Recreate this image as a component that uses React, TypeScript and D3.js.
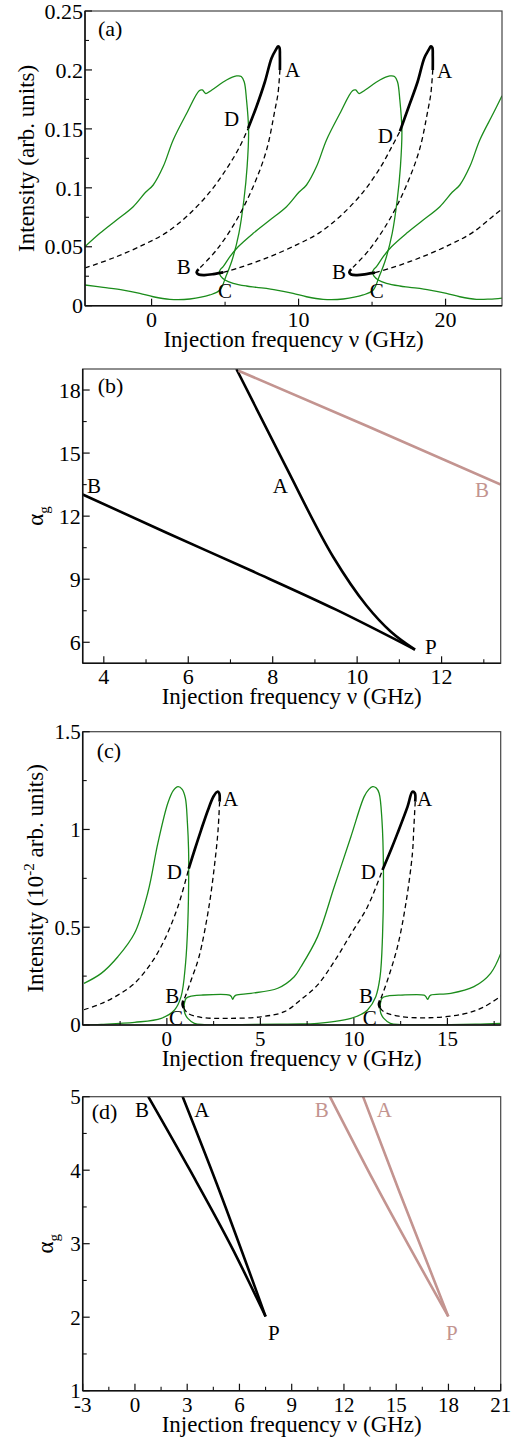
import React from 'react';
import * as d3 from 'd3';

const FONT = '"Liberation Serif", "Times New Roman", Times, serif';
const GREEN = '#1b8c1b';
const PINK = '#c39490';
const BLACK = '#000';

// ---------------- Panel (a) ----------------
const aXTicks = [0, 10, 20];
const aXMinor = [5, 15];
const aYTicks = [0, 0.05, 0.1, 0.15, 0.2, 0.25];
const aYMinor = [0.025, 0.075, 0.125, 0.175, 0.225];

const aGreenL_v = [-4.54, -3.52, -2.38, -1.25, -0.41, 0.11, 0.79, 1.47, 2.38, 3.24, 3.45, 3.69, 4.1, 5.1, 5.78, 6.1, 6.3, 6.46, 6.6, 6.5, 6.28, 5.94, 5.48, 5.05, 4.65, 3.97, 2.61, 1.24, 0.11, -0.8, -1.93, -3.29, -4.54];
const aGreenL_i = [0.05, 0.0614, 0.0727, 0.084, 0.0962, 0.1024, 0.118, 0.1406, 0.163, 0.1824, 0.183, 0.18, 0.183, 0.1915, 0.1949, 0.1945, 0.19, 0.1745, 0.149, 0.118, 0.0897, 0.0614, 0.0388, 0.0246, 0.0133, 0.0091, 0.0057, 0.0054, 0.0076, 0.0105, 0.0133, 0.0156, 0.0176];
const aGreenM_v = [4.6, 4.7, 4.87, 5.33, 5.89, 6.91, 8.05, 9.18, 10.02, 10.54, 11.22, 11.9, 12.81, 13.67, 13.88, 14.12, 14.53, 15.53, 16.21, 16.53, 16.73, 16.89, 17.03, 16.93, 16.71, 16.37, 15.91, 15.48, 15.08, 14.4, 13.04, 11.67, 10.54, 9.63, 8.5, 7.14, 6.46, 5.55, 4.99, 4.7, 4.6];
const aGreenM_i = [0.0285, 0.031, 0.0331, 0.0416, 0.05, 0.0614, 0.0727, 0.084, 0.0962, 0.1024, 0.118, 0.1406, 0.163, 0.1824, 0.183, 0.18, 0.183, 0.1915, 0.1949, 0.1945, 0.19, 0.1745, 0.149, 0.118, 0.0897, 0.0614, 0.0388, 0.0246, 0.0133, 0.0091, 0.0057, 0.0054, 0.0076, 0.0105, 0.0133, 0.0156, 0.0167, 0.019, 0.0218, 0.025, 0.0285];
const aGreenR_v = [23.84, 23.24, 22.33, 21.65, 20.97, 20.45, 19.61, 18.48, 17.34, 16.32, 15.76, 15.3, 15.13, 15.03, 15.13, 15.42, 15.98, 16.89, 17.57, 18.93, 20.06, 20.97, 22.1, 23.0, 23.84];
const aGreenR_i = [0.178, 0.163, 0.1406, 0.118, 0.1024, 0.0962, 0.084, 0.0727, 0.0614, 0.05, 0.0416, 0.0331, 0.031, 0.0285, 0.025, 0.0218, 0.019, 0.0167, 0.0156, 0.0133, 0.0105, 0.0076, 0.0054, 0.0056, 0.0065];

const aDashLowL_v = [-4.53, -2.5, -0.5, 1.0, 2.5, 4.0, 5.2, 6.0, 6.57];
const aDashLowL_i = [0.032, 0.041, 0.052, 0.062, 0.077, 0.097, 0.118, 0.135, 0.1505];
const aSolidDA1_v = [6.57, 7.14, 7.71, 8.16, 8.45, 8.61, 8.7, 8.73, 8.73];
const aSolidDA1_i = [0.1505, 0.169, 0.19, 0.21, 0.217, 0.22, 0.219, 0.212, 0.2];
const aDashUp1_v = [8.73, 8.6, 8.39, 7.82, 6.91, 5.78, 4.42, 3.2];
const aDashUp1_i = [0.2, 0.18, 0.166, 0.132, 0.101, 0.0727, 0.0473, 0.031];
const aSolidBC1_v = [3.2, 3.06, 3.2, 3.6, 4.2, 4.87];
const aSolidBC1_i = [0.031, 0.0285, 0.0265, 0.026, 0.0268, 0.0283];
const aDashLowM_v = [4.87, 5.9, 7.93, 9.93, 11.43, 12.93, 14.43, 15.6, 16.35, 16.9];
const aDashLowM_i = [0.0283, 0.032, 0.041, 0.052, 0.062, 0.077, 0.097, 0.118, 0.135, 0.148];
const aSolidDA2_v = [16.9, 17.5, 18.1, 18.55, 18.85, 19.0, 19.1, 19.13, 19.13];
const aSolidDA2_i = [0.148, 0.169, 0.19, 0.21, 0.217, 0.22, 0.219, 0.212, 0.2];
const aDashUp2_v = [19.13, 19.0, 18.8, 18.22, 17.3, 16.17, 14.8, 13.58];
const aDashUp2_i = [0.2, 0.18, 0.166, 0.132, 0.101, 0.0727, 0.0473, 0.031];
const aSolidBC2_v = [13.58, 13.45, 13.58, 13.98, 14.6, 15.2];
const aSolidBC2_i = [0.031, 0.0285, 0.0265, 0.026, 0.0268, 0.028];
const aDashLowR_v = [15.2, 16.3, 18.33, 20.33, 21.83, 23.33, 23.84];
const aDashLowR_i = [0.028, 0.032, 0.041, 0.052, 0.062, 0.077, 0.082];

const aLabelText = ['A', 'D', 'B', 'C', 'A', 'D', 'B', 'C'];
const aLabelV = [9.07, 4.92, 1.72, 4.51, 19.41, 15.39, 12.27, 14.85];
const aLabelI = [0.194, 0.1524, 0.0269, 0.0065, 0.193, 0.138, 0.0227, 0.0065];

// ---------------- Panel (b) ----------------
const bXTicks = [4, 6, 8, 10, 12];
const bXMinor = [5, 7, 9, 11, 13];
const bYTicks = [6, 9, 12, 15, 18];
const bYMinor = [7.5, 10.5, 13.5, 16.5];

const bLineB_v = [3.5, 5.5, 7.5, 9.5, 11.37];
const bLineB_a = [13.03, 11.2, 9.4, 7.55, 5.65];
const bLineA_v = [7.14, 8.3, 9.43, 10.22, 10.8, 11.37];
const bLineA_a = [19.0, 14.4, 10.07, 7.75, 6.5, 5.65];
const bPinkB_v = [7.19, 10.22, 13.4];
const bPinkB_a = [18.92, 16.3, 13.5];

const bLabelText = ['B', 'A', 'B', 'P'];
const bLabelV = [3.6, 8.0, 12.79, 11.61];
const bLabelA = [13.12, 13.09, 12.91, 5.42];
const bLabelPink = [false, false, true, false];

// ---------------- Panel (c) ----------------
const cXTicks = [0, 5, 10, 15];
const cXMinor = [-2.5, 2.5, 7.5, 12.5, 17.5];
const cYTicks = [0, 0.5, 1, 1.5];
const cYMinor = [0.25, 0.75, 1.25];

const cGreenL_v = [-4.43, -3.51, -2.62, -1.73, -1.01, -0.48, 0.05, 0.35, 0.6, 0.82, 0.99, 1.1, 1.16, 1.17, 1.12, 1.0, 0.76, 0.41, -0.3, -1.73, -3.51, -4.43];
const cGreenL_i = [0.213, 0.264, 0.349, 0.469, 0.68, 0.93, 1.134, 1.2, 1.219, 1.205, 1.16, 1.032, 0.9, 0.793, 0.52, 0.316, 0.145, 0.077, 0.034, 0.0137, 0.0034, 0.0];
const cGreenM_v = [1.3, 1.03, 0.94, 0.92, 0.96, 1.12, 1.47, 2.0, 4.0, 6.0, 7.17, 8.06, 9.0, 9.84, 10.4, 10.73, 11.17, 11.4, 11.53, 11.58, 11.5, 11.35, 11.2, 11.0, 10.8, 10.55, 9.84, 8.95, 8.06, 7.17, 6.81, 5.93, 4.5, 3.7, 3.6, 3.52, 3.45, 3.35, 1.83, 1.3];
const cGreenM_i = [0.148, 0.137, 0.111, 0.09, 0.06, 0.034, 0.0087, 0.002, 0.002, 0.004, 0.005, 0.0087, 0.018, 0.034, 0.055, 0.077, 0.145, 0.247, 0.452, 0.793, 1.049, 1.185, 1.212, 1.219, 1.205, 1.168, 0.963, 0.707, 0.452, 0.298, 0.247, 0.188, 0.162, 0.153, 0.145, 0.131, 0.145, 0.153, 0.153, 0.148];
const cGreenR_v = [17.89, 17.31, 16.42, 15.18, 14.11, 14.03, 13.94, 13.85, 13.75, 12.5, 11.8, 11.5, 11.42, 11.4, 11.44, 11.6, 11.95, 12.5, 14.5, 16.5, 17.89];
const cGreenR_i = [0.375, 0.264, 0.196, 0.162, 0.153, 0.145, 0.131, 0.145, 0.153, 0.153, 0.148, 0.137, 0.111, 0.09, 0.06, 0.034, 0.0087, 0.002, 0.002, 0.004, 0.008];

const cDashLowL_v = [-4.43, -3.5, -2.62, -1.73, -0.84, -0.13, 0.59, 1.17];
const cDashLowL_i = [0.078, 0.11, 0.153, 0.213, 0.316, 0.435, 0.605, 0.8];
const cSolidDA1_v = [1.17, 1.5, 1.83, 2.2, 2.5, 2.7, 2.8, 2.82];
const cSolidDA1_i = [0.8, 0.9, 0.997, 1.1, 1.17, 1.193, 1.185, 1.142];
const cDashUp1_v = [2.82, 2.74, 2.6, 2.25, 1.72, 1.3, 1.0, 0.88];
const cDashUp1_i = [1.142, 1.0, 0.861, 0.605, 0.349, 0.23, 0.15, 0.125];
const cSolidBC1_v = [0.88, 0.84, 0.9];
const cSolidBC1_i = [0.125, 0.105, 0.088];
const cDashLowM_v = [0.9, 1.12, 1.83, 3.26, 5.03, 6.28, 7.17, 8.06, 8.95, 9.84, 10.73, 11.53];
const cDashLowM_i = [0.088, 0.06, 0.039, 0.034, 0.042, 0.068, 0.13, 0.205, 0.325, 0.465, 0.605, 0.793];
const cSolidDA2_v = [11.53, 12.0, 12.33, 12.87, 13.13, 13.26, 13.28];
const cSolidDA2_i = [0.793, 0.9, 0.98, 1.117, 1.193, 1.185, 1.142];
const cDashUp2_v = [13.28, 13.2, 13.13, 12.78, 12.33, 11.8, 11.5, 11.4];
const cDashUp2_i = [1.142, 1.0, 0.878, 0.622, 0.4, 0.23, 0.15, 0.125];
const cSolidBC2_v = [11.4, 11.34, 11.4];
const cSolidBC2_i = [0.125, 0.105, 0.088];
const cDashLowR_v = [11.4, 11.6, 12.4, 14.0, 15.8, 16.9, 17.89];
const cDashLowR_i = [0.088, 0.068, 0.045, 0.037, 0.055, 0.09, 0.15];

const cLabelText = ['A', 'D', 'B', 'C', 'A', 'D', 'B', 'C'];
const cLabelV = [3.0, 0.0, -0.09, 0.12, 13.37, 10.37, 10.27, 10.48];
const cLabelI = [1.12, 0.747, 0.113, 0.0, 1.12, 0.747, 0.113, 0.0];

// ---------------- Panel (d) ----------------
const dXTicks = [-3, 0, 3, 6, 9, 12, 15, 18, 21];
const dXMinor = [-1.5, 1.5, 4.5, 7.5, 10.5, 13.5, 16.5, 19.5];
const dYTicks = [1, 2, 3, 4, 5];
const dYMinor = [1.5, 2.5, 3.5, 4.5];

const dBlackB_v = [0.77, 3.16, 5.65, 7.5];
const dBlackB_a = [5, 4, 2.91, 2.01];
const dBlackA_v = [2.74, 4.69, 7.5];
const dBlackA_a = [5, 3.82, 2.01];
const dPinkB_v = [11.2, 13.78, 17.99];
const dPinkB_a = [5, 3.82, 2.01];
const dPinkA_v = [13.1, 15.21, 17.99];
const dPinkA_a = [5, 3.69, 2.01];

const dLabelText = ['B', 'A', 'B', 'A', 'P', 'P'];
const dLabelV = [0.0, 3.4, 10.33, 13.89, 7.64, 17.86];
const dLabelA = [4.73, 4.73, 4.73, 4.73, 1.69, 1.69];
const dLabelPink = [false, false, true, true, false, true];

const X_TITLE = 'Injection frequency ν (GHz)';

type Series = { v: number[]; y: number[]; kind: 'green' | 'solid' | 'dash' | 'pink' | 'thin' };
type Label = { t: string; v: number; y: number; color: string };

type PanelProps = {
  id: string;
  left: number; right: number; top: number; bottom: number;
  xDomain: [number, number]; yDomain: [number, number];
  xTicks: number[]; xMinor: number[]; yTicks: number[]; yMinor: number[];
  series: Series[]; labels: Label[];
  panelLabel: string; plDx: number; plDy: number;
  tickSize: number;
  yTitle: React.ReactNode;
};

function styleFor(kind: Series['kind']) {
  switch (kind) {
    case 'green': return { stroke: GREEN, strokeWidth: 1.3 };
    case 'solid': return { stroke: BLACK, strokeWidth: 2.7 };
    case 'dash': return { stroke: BLACK, strokeWidth: 1.3, strokeDasharray: '5 3.5' };
    case 'pink': return { stroke: PINK, strokeWidth: 2.6 };
    default: return { stroke: BLACK, strokeWidth: 2.6 };
  }
}

function Panel(p: PanelProps) {
  const x = d3.scaleLinear().domain(p.xDomain).range([p.left, p.right]);
  const y = d3.scaleLinear().domain(p.yDomain).range([p.bottom, p.top]);
  const mk = (s: Series) => {
    const curve = s.kind === 'thin' || s.kind === 'pink' ? d3.curveMonotoneX : d3.curveCatmullRom.alpha(0.5);
    return d3.line<number>()
      .x((i) => x(s.v[i]))
      .y((i) => y(s.y[i]))
      .curve(curve)(s.v.map((_, i) => i)) || '';
  };
  const clipId = 'clip-' + p.id;
  return (
    <g>
      <defs>
        <clipPath id={clipId}>
          <rect x={p.left} y={p.top} width={p.right - p.left} height={p.bottom - p.top} />
        </clipPath>
      </defs>
      <g clipPath={`url(#${clipId})`}>
        {p.series.map((s, k) => (
          <path key={k} d={mk(s)} fill="none" strokeLinejoin="round" strokeLinecap="butt" {...styleFor(s.kind)} />
        ))}
      </g>
      <rect x={p.left} y={p.top} width={p.right - p.left} height={p.bottom - p.top} fill="none" stroke="#444" strokeWidth={1.2} />
      <line x1={p.left} x2={p.left} y1={p.top} y2={p.bottom} stroke="#111" strokeWidth={1.5} />
      <line x1={p.left} x2={p.right} y1={p.bottom} y2={p.bottom} stroke="#111" strokeWidth={1.5} />
      {p.xTicks.map((t) => (
        <g key={'xt' + t}>
          <line x1={x(t)} x2={x(t)} y1={p.bottom} y2={p.bottom - 7} stroke="#111" strokeWidth={1.2} />
          <text x={x(t)} y={p.bottom + 21} textAnchor="middle" fontFamily={FONT} fontSize={p.tickSize}>{String(t)}</text>
        </g>
      ))}
      {p.xMinor.map((t) => (
        <line key={'xm' + t} x1={x(t)} x2={x(t)} y1={p.bottom} y2={p.bottom - 4} stroke="#111" strokeWidth={1.1} />
      ))}
      {p.yTicks.map((t) => (
        <g key={'yt' + t}>
          <line x1={p.left} x2={p.left + 7} y1={y(t)} y2={y(t)} stroke="#111" strokeWidth={1.2} />
          <text x={p.left - 2} y={y(t)} dy="0.35em" textAnchor="end" fontFamily={FONT} fontSize={p.tickSize}>{String(t)}</text>
        </g>
      ))}
      {p.yMinor.map((t) => (
        <line key={'ym' + t} x1={p.left} x2={p.left + 4} y1={y(t)} y2={y(t)} stroke="#111" strokeWidth={1.1} />
      ))}
      {p.labels.map((l, k) => (
        <text key={'l' + k} x={x(l.v)} y={y(l.y)} fontFamily={FONT} fontSize={21} fill={l.color}>{l.t}</text>
      ))}
      <text x={p.left + p.plDx} y={p.top + p.plDy} fontFamily={FONT} fontSize={22}>{p.panelLabel}</text>
      <text x={(p.left + p.right) / 2} y={p.bottom + 41} textAnchor="middle" fontFamily={FONT} fontSize={23}>{X_TITLE}</text>
      {p.yTitle}
    </g>
  );
}

function build(v: number[][], y: number[][], kinds: Series['kind'][]): Series[] {
  return v.map((vv, i) => ({ v: vv, y: y[i], kind: kinds[i] }));
}

export default function App() {
  const aSeries = build(
    [aGreenL_v, aGreenM_v, aGreenR_v, aDashLowL_v, aSolidDA1_v, aDashUp1_v, aSolidBC1_v, aDashLowM_v, aSolidDA2_v, aDashUp2_v, aSolidBC2_v, aDashLowR_v],
    [aGreenL_i, aGreenM_i, aGreenR_i, aDashLowL_i, aSolidDA1_i, aDashUp1_i, aSolidBC1_i, aDashLowM_i, aSolidDA2_i, aDashUp2_i, aSolidBC2_i, aDashLowR_i],
    ['green', 'green', 'green', 'dash', 'solid', 'dash', 'solid', 'dash', 'solid', 'dash', 'solid', 'dash']
  );
  const cSeries = build(
    [cGreenL_v, cGreenM_v, cGreenR_v, cDashLowL_v, cSolidDA1_v, cDashUp1_v, cSolidBC1_v, cDashLowM_v, cSolidDA2_v, cDashUp2_v, cSolidBC2_v, cDashLowR_v],
    [cGreenL_i, cGreenM_i, cGreenR_i, cDashLowL_i, cSolidDA1_i, cDashUp1_i, cSolidBC1_i, cDashLowM_i, cSolidDA2_i, cDashUp2_i, cSolidBC2_i, cDashLowR_i],
    ['green', 'green', 'green', 'dash', 'solid', 'dash', 'solid', 'dash', 'solid', 'dash', 'solid', 'dash']
  );
  const bSeries = build([bLineB_v, bLineA_v, bPinkB_v], [bLineB_a, bLineA_a, bPinkB_a], ['thin', 'thin', 'pink']);
  const dSeries = build(
    [dBlackB_v, dBlackA_v, dPinkB_v, dPinkA_v],
    [dBlackB_a, dBlackA_a, dPinkB_a, dPinkA_a],
    ['thin', 'thin', 'pink', 'pink']
  );

  const aLabels = aLabelText.map((t, i) => ({ t, v: aLabelV[i], y: aLabelI[i], color: BLACK }));
  const bLabels = bLabelText.map((t, i) => ({ t, v: bLabelV[i], y: bLabelA[i], color: bLabelPink[i] ? PINK : BLACK }));
  const cLabels = cLabelText.map((t, i) => ({ t, v: cLabelV[i], y: cLabelI[i], color: BLACK }));
  const dLabels = dLabelText.map((t, i) => ({ t, v: dLabelV[i], y: dLabelA[i], color: dLabelPink[i] ? PINK : BLACK }));

  const rotTitle = (cx: number, cy: number, content: React.ReactNode) => (
    <text transform={`translate(${cx},${cy}) rotate(-90)`} textAnchor="middle" fontFamily={FONT} fontSize={23}>{content}</text>
  );

  return (
    <svg width={527} height={1439} style={{ position: 'absolute', left: 0, top: 0, background: '#fff' }}>
      <rect x={0} y={0} width={527} height={1439} fill="#fff" />
      <Panel id="a" left={85} right={502} top={11} bottom={305.7}
        xDomain={[-4.53, 23.84]} yDomain={[0, 0.25]}
        xTicks={aXTicks} xMinor={aXMinor} yTicks={aYTicks} yMinor={aYMinor}
        series={aSeries} labels={aLabels} panelLabel="(a)" plDx={13} plDy={25} tickSize={22}
        yTitle={rotTitle(34, 158.4, 'Intensity (arb. units)')} />
      <Panel id="b" left={82.7} right={500.7} top={369} bottom={663.3}
        xDomain={[3.5, 13.4]} yDomain={[5, 19]}
        xTicks={bXTicks} xMinor={bXMinor} yTicks={bYTicks} yMinor={bYMinor}
        series={bSeries} labels={bLabels} panelLabel="(b)" plDx={15} plDy={24} tickSize={22}
        yTitle={rotTitle(43, 516, <>α<tspan dy={6} fontSize={15}>g</tspan></>)} />
      <Panel id="c" left={82.7} right={500.7} top={731.7} bottom={1025}
        xDomain={[-4.5, 17.85]} yDomain={[0, 1.5]}
        xTicks={cXTicks} xMinor={cXMinor} yTicks={cYTicks} yMinor={cYMinor}
        series={cSeries} labels={cLabels} panelLabel="(c)" plDx={14} plDy={26} tickSize={21}
        yTitle={rotTitle(43, 878.4, <>Intensity (10<tspan dy={-9} fontSize={15}>-2</tspan><tspan dy={9}> arb. units)</tspan></>)} />
      <Panel id="d" left={82.7} right={500.7} top={1096.7} bottom={1390.7}
        xDomain={[-3, 21]} yDomain={[1, 5]}
        xTicks={dXTicks} xMinor={dXMinor} yTicks={dYTicks} yMinor={dYMinor}
        series={dSeries} labels={dLabels} panelLabel="(d)" plDx={9} plDy={22} tickSize={21}
        yTitle={rotTitle(53, 1243.7, <>α<tspan dy={6} fontSize={15}>g</tspan></>)} />
    </svg>
  );
}
